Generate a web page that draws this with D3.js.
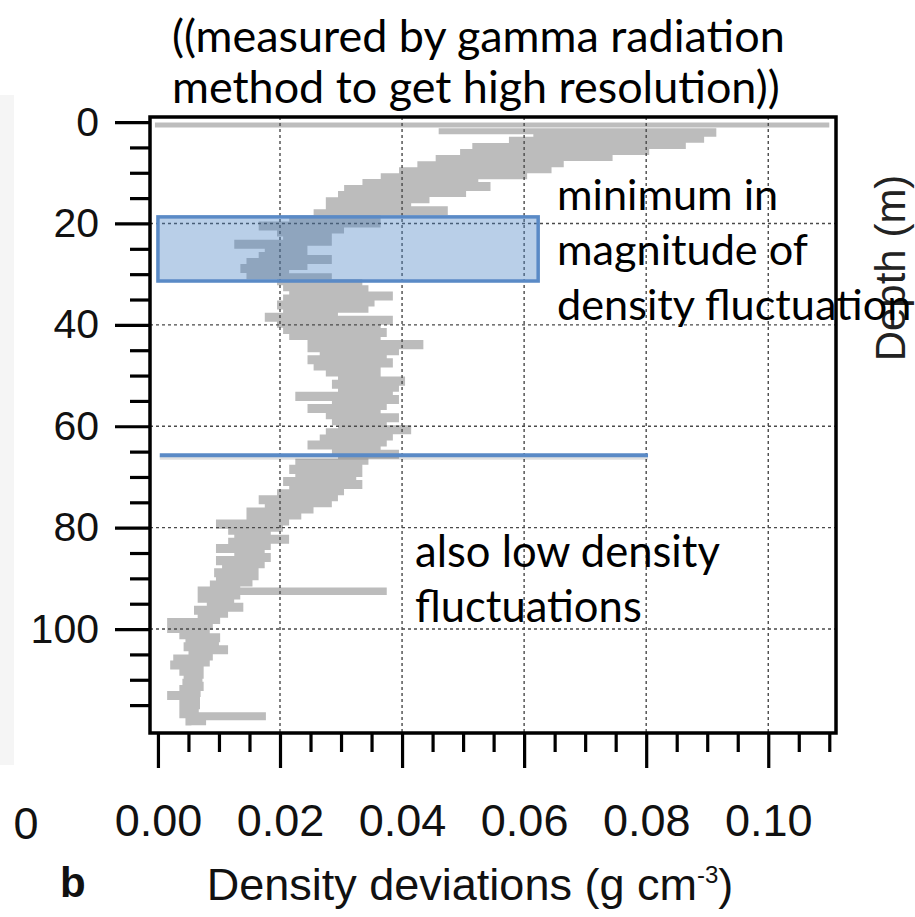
<!DOCTYPE html>
<html><head><meta charset="utf-8">
<script src="https://cdn.jsdelivr.net/npm/d3@7"></script>
<style>body{margin:0;background:#fff;} svg{display:block}</style>
</head><body><svg id="c" width="915" height="917"></svg>
<script>
// ---- data ----
const depthM = [1.8,2.3,2.9,3.5,4.1,4.7,5.3,5.9,6.5,7.1,7.8,8.3,8.9,9.5,10.1,10.7,11.3,11.8,12.4,13.0,13.6,14.2,14.8,15.4,16.0,16.6,17.2,17.8,18.4,19.0,19.6,20.2,20.8,21.4,22.0,22.6,23.2,23.8,24.4,25.0,25.6,26.2,26.8,27.4,28.0,28.6,29.2,29.8,30.4,31.0,31.6,32.2,32.8,33.4,34.0,34.6,35.2,35.8,36.4,37.0,37.6,38.2,38.8,39.4,40.0,40.6,41.2,41.8,42.4,43.0,43.6,44.2,44.8,45.4,46.0,46.6,47.2,47.8,48.4,49.0,49.6,50.2,50.8,51.4,52.0,52.6,53.2,53.8,54.4,55.0,55.6,56.2,56.8,57.4,58.0,58.6,59.2,59.8,60.4,61.0,61.6,62.2,62.8,63.4,64.0,64.6,65.2,65.8,66.4,67.0,67.6,68.2,68.8,69.4,70.0,70.6,71.2,71.8,72.4,73.0,73.6,74.2,74.8,75.4,76.0,76.6,77.2,77.8,78.4,79.0,79.6,80.2,80.8,81.4,82.0,82.6,83.2,83.8,84.4,85.0,85.6,86.2,86.8,87.4,88.0,88.6,89.2,89.8,90.4,91.0,91.6,92.2,92.4,92.7,93.0,93.6,94.2,94.8,95.4,96.0,96.6,97.2,97.8,98.4,99.0,99.6,100.2,100.8,101.4,102.0,102.6,103.2,103.8,104.4,105.0,105.6,106.2,106.8,107.4,108.0,108.6,109.2,109.8,110.4,111.0,111.6,112.2,112.8,113.4,114.0,114.6,115.2,115.8,116.4,117.0,117.4,117.8,118.4,119.0];
const densityDev = [0.046,0.091,0.062,0.089,0.058,0.086,0.052,0.080,0.050,0.074,0.046,0.066,0.043,0.064,0.040,0.060,0.037,0.052,0.034,0.054,0.031,0.050,0.030,0.044,0.028,0.041,0.028,0.047,0.026,0.036,0.022,0.036,0.017,0.030,0.020,0.028,0.021,0.028,0.013,0.024,0.018,0.024,0.017,0.028,0.015,0.024,0.014,0.021,0.015,0.028,0.020,0.033,0.021,0.034,0.022,0.038,0.021,0.035,0.020,0.034,0.021,0.029,0.018,0.038,0.020,0.036,0.021,0.037,0.022,0.036,0.025,0.043,0.025,0.039,0.027,0.037,0.025,0.038,0.026,0.036,0.028,0.036,0.030,0.040,0.029,0.039,0.030,0.038,0.023,0.039,0.029,0.037,0.025,0.036,0.028,0.039,0.029,0.037,0.030,0.041,0.028,0.038,0.027,0.037,0.025,0.036,0.029,0.039,0.030,0.034,0.023,0.033,0.022,0.033,0.023,0.032,0.021,0.033,0.022,0.030,0.020,0.029,0.017,0.028,0.018,0.025,0.015,0.023,0.015,0.021,0.010,0.020,0.012,0.018,0.013,0.021,0.012,0.018,0.010,0.017,0.013,0.018,0.010,0.017,0.011,0.016,0.0097,0.016,0.010,0.015,0.009,0.013,0.007,0.037,0.008,0.013,0.007,0.012,0.0085,0.0135,0.0064,0.011,0.007,0.0097,0.002,0.0085,0.002,0.008,0.004,0.0097,0.005,0.0095,0.0047,0.011,0.0055,0.0085,0.003,0.008,0.0025,0.007,0.004,0.007,0.0047,0.0068,0.0045,0.007,0.004,0.0065,0.002,0.0064,0.004,0.0064,0.004,0.0062,0.004,0.0172,0.005,0.0074,0.005];
const surfaceDepth = 0.6;
const surfaceRange = [0.0, 0.110];
const yMajorTicks = [0,20,40,60,80,100];
const yMinorTicks = [5,10,15,25,30,35,45,50,55,65,70,75,85,90,95,105,110,115];
const xMajorTicks = [0,0.02,0.04,0.06,0.08,0.10];
const xTickLabels = ["0.00","0.02","0.04","0.06","0.08","0.10"];
const xMinorTicks = [0.005,0.01,0.015,0.025,0.03,0.035,0.045,0.05,0.055,0.065,0.07,0.075,0.085,0.09,0.095,0.105,0.11];
const gridDepths = [20,40,60,80,100];
const gridDev = [0.02,0.04,0.06,0.08,0.10];
const boxDepths = [18.7, 31.35];
const boxDev = [0.0, 0.0623];
const lineDepth = 65.7;
const lineDev = [0.0003, 0.0803];
const titleLines = ["((measured by gamma radiation","method to get high resolution))"];
const noteA = ["minimum in","magnitude of","density fluctuation"];
const noteB = ["also low density","fluctuations"];

// ---- drawing ----
const svg = d3.select("#c");
const x = d3.scaleLinear().domain([-0.0013, 0.1111]).range([150, 836]);
const y = d3.scaleLinear().domain([-1, 120.5]).range([117, 733]);
const AR = "'Liberation Sans', Arial, sans-serif";
const CAL = "Lato, 'Open Sans', sans-serif";
const blue = "#5a8ac6";

// faint strip at far left (edge of neighbouring panel)
svg.append("rect").attr("x",0).attr("y",95).attr("width",14).attr("height",670).attr("fill","#f5f5f5");

// surface line
svg.append("line").attr("x1",x(surfaceRange[0])-3).attr("x2",x(surfaceRange[1]))
  .attr("y1",y(surfaceDepth)).attr("y2",y(surfaceDepth))
  .attr("stroke","#bdbdbd").attr("stroke-width",5);

const pts = depthM.map((d,i)=>({d, v: densityDev[i]}));
svg.append("path").datum(pts)
  .attr("d", d3.line().x(p=>x(p.v)).y(p=>y(p.d)).curve(d3.curveStepAfter))
  .attr("fill","none").attr("stroke","#bcbcbc").attr("stroke-width",6);

// grid
const g = svg.append("g").attr("stroke","#4a4a4a").attr("stroke-width",1.4).attr("stroke-dasharray","3,3");
g.selectAll("line.h").data(gridDepths).join("line").attr("class","h")
  .attr("x1",150).attr("x2",836).attr("y1",d=>y(d)).attr("y2",d=>y(d));
g.selectAll("line.v").data(gridDev).join("line").attr("class","v")
  .attr("y1",117).attr("y2",733).attr("x1",d=>x(d)).attr("x2",d=>x(d));

// highlight box
svg.append("rect").attr("x",x(boxDev[0])).attr("y",y(boxDepths[0]))
  .attr("width",x(boxDev[1])-x(boxDev[0])).attr("height",y(boxDepths[1])-y(boxDepths[0]))
  .attr("fill","rgb(71,129,195)").attr("fill-opacity",0.38)
  .attr("stroke",blue).attr("stroke-width",3.5);

// boundary line
svg.append("line").attr("x1",x(lineDev[0])).attr("x2",x(lineDev[1]))
  .attr("y1",y(lineDepth)+2.5).attr("y2",y(lineDepth)+2.5)
  .attr("stroke","#000").attr("stroke-opacity",0.12).attr("stroke-width",4);
svg.append("line").attr("x1",x(lineDev[0])).attr("x2",x(lineDev[1]))
  .attr("y1",y(lineDepth)).attr("y2",y(lineDepth))
  .attr("stroke",blue).attr("stroke-width",4);

// frame
svg.append("rect").attr("x",150).attr("y",117).attr("width",686).attr("height",616)
  .attr("fill","none").attr("stroke","#000").attr("stroke-width",3.5);

// y axis
const yAxMaj = svg.append("g").attr("transform","translate(150,0)")
  .call(d3.axisLeft(y).tickValues(yMajorTicks).tickSize(35).tickPadding(16).tickFormat(d3.format("d")));
const yAxMin = svg.append("g").attr("transform","translate(150,0)")
  .call(d3.axisLeft(y).tickValues(yMinorTicks).tickSize(20).tickFormat(""));
// x axis
const xAxMaj = svg.append("g").attr("transform","translate(0,733)")
  .call(d3.axisBottom(x).tickValues(xMajorTicks).tickSize(35).tickPadding(36).tickFormat((d,i)=>xTickLabels[i]));
const xAxMin = svg.append("g").attr("transform","translate(0,733)")
  .call(d3.axisBottom(x).tickValues(xMinorTicks).tickSize(19).tickFormat(""));
[yAxMaj,yAxMin,xAxMaj,xAxMin].forEach(a=>{
  a.select(".domain").remove();
  a.selectAll(".tick line").attr("stroke","#000").attr("stroke-width",3.2);
  a.selectAll("text").attr("fill","#111").style("font-family",AR);
});
yAxMaj.selectAll("text").style("font-size","41px");
xAxMaj.selectAll("text").style("font-size","45px");

// stray tick label of neighbouring panel
svg.append("text").attr("x",26).attr("y",839).attr("text-anchor","middle")
  .style("font-family",AR).style("font-size","45px").attr("fill","#111").text("0");

// panel letter and axis titles
svg.append("text").attr("x",60).attr("y",897).style("font-family",AR).style("font-size","42px")
  .style("font-weight","bold").attr("fill","#111").text("b");
const xt = svg.append("text").attr("x",470).attr("y",900).attr("text-anchor","middle")
  .style("font-family",AR).style("font-size","45px").attr("fill","#111");
xt.append("tspan").text("Density deviations (g cm");
xt.append("tspan").attr("dy",-17).style("font-size","24px").text("-3");
xt.append("tspan").attr("dy",17).text(")");

svg.append("text").attr("transform","translate(905,268) rotate(-90)").attr("text-anchor","middle")
  .style("font-family",AR).style("font-size","42px").attr("fill","#222").text("Depth (m)");

// Calibri-like notes
function fitLines(lines, x0, y0, dy, target, idx){
  const t = svg.append("g");
  const els = lines.map((s,i)=>t.append("text").attr("x",x0).attr("y",y0+i*dy)
     .style("font-family",CAL).style("font-size","40px").attr("fill","#000").text(s));
  const w = els[idx].node().getComputedTextLength();
  const fs = 40*target/w;
  els.forEach(e=>e.style("font-size",fs+"px"));
}
fitLines(titleLines, 172, 52, 51, 613, 0);
fitLines(noteA, 557, 210, 55, 251, 1);
fitLines(noteB, 415, 567, 55, 305, 0);
</script></body></html>
